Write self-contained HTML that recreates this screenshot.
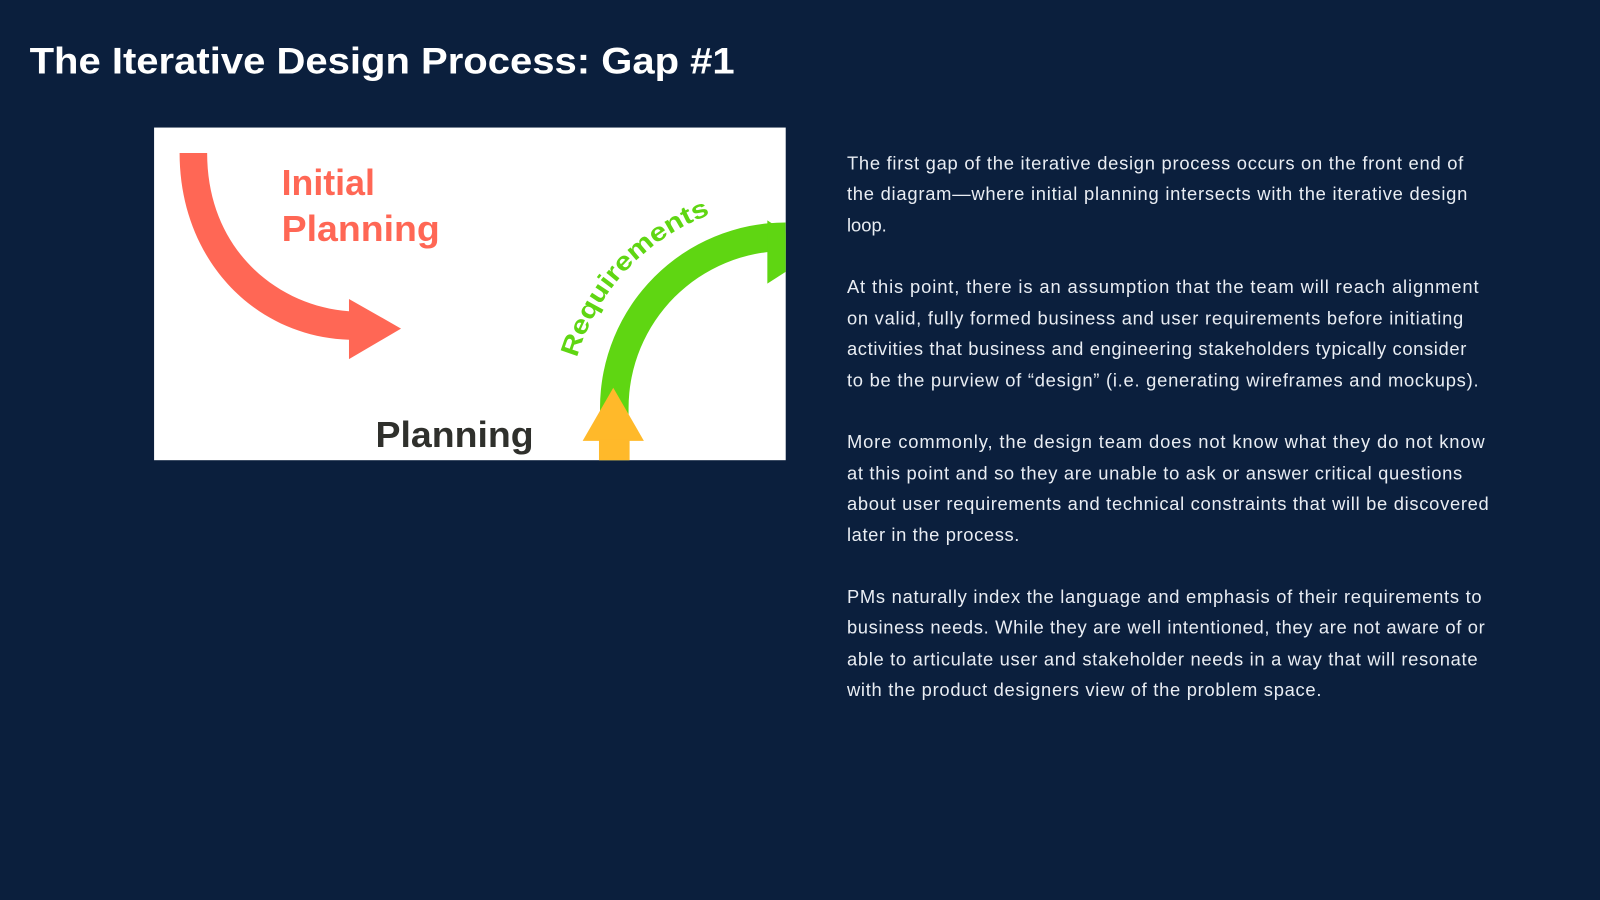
<!DOCTYPE html>
<html><head><meta charset="utf-8"><style>
html,body{margin:0;padding:0;background:#0b1f3d;width:1600px;height:900px;overflow:hidden}
svg{display:block}
</style></head><body>
<svg width="1600" height="900" viewBox="0 0 1568 882" xmlns="http://www.w3.org/2000/svg">
<rect width="1568" height="882" fill="#0b1f3d"/>
<text x="29" y="72" font-family="Liberation Sans, sans-serif" font-weight="bold" font-size="36" fill="#ffffff" textLength="691" lengthAdjust="spacingAndGlyphs">The Iterative Design Process: Gap #1</text>
<defs><clipPath id="c"><rect x="151" y="125" width="619" height="326"/></clipPath>
<path id="arc" d="M557,410 A213,213 0 0 1 770,197"/></defs>
<rect x="151" y="125" width="619" height="326" fill="#fff"/>
<g clip-path="url(#c)">
<path d="M176,150 C176,255 250,330 342,333 L342,352 L393,322 L342,293 L342,305 C272,300 203,245 203,150 Z" fill="#ff6755"/>
<path d="M588,451 L588,400 A182,182 0 0 1 770,218 L770,246 A154,154 0 0 0 616,400 L616,451 Z" fill="#5fd612"/>
<polygon points="752,216 800,247 752,278" fill="#5fd612"/>
<polygon points="571,432 601,380 631,432" fill="#ffb92a"/>
<rect x="587" y="431" width="30" height="25" fill="#ffb92a"/>
<text font-family="Liberation Sans, sans-serif" font-weight="bold" font-size="25" fill="#5fd612"><textPath href="#arc" startOffset="60" textLength="199" lengthAdjust="spacingAndGlyphs">Requirements</textPath></text>
<text x="276" y="191" font-family="Liberation Sans, sans-serif" font-weight="bold" font-size="35" fill="#ff6755">Initial</text>
<text x="276" y="236" font-family="Liberation Sans, sans-serif" font-weight="bold" font-size="35" fill="#ff6755" textLength="155" lengthAdjust="spacingAndGlyphs">Planning</text>
<text x="368" y="438" font-family="Liberation Sans, sans-serif" font-weight="bold" font-size="35" fill="#2f302c" textLength="155" lengthAdjust="spacingAndGlyphs">Planning</text>
</g>
<g font-family="Liberation Sans, sans-serif" font-size="18" fill="#e9edf3">
<text x="830" y="166" textLength="604" lengthAdjust="spacing">The first gap of the iterative design process occurs on the front end of</text>
<text x="830" y="196" textLength="608" lengthAdjust="spacing">the diagram—where initial planning intersects with the iterative design</text>
<text x="830" y="227">loop.</text>
<text x="830" y="287" textLength="619" lengthAdjust="spacing">At this point, there is an assumption that the team will reach alignment</text>
<text x="830" y="318" textLength="604" lengthAdjust="spacing">on valid, fully formed business and user requirements before initiating</text>
<text x="830" y="348" textLength="607" lengthAdjust="spacing">activities that business and engineering stakeholders typically consider</text>
<text x="830" y="379" textLength="619" lengthAdjust="spacing">to be the purview of “design” (i.e. generating wireframes and mockups).</text>
<text x="830" y="439" textLength="625" lengthAdjust="spacing">More commonly, the design team does not know what they do not know</text>
<text x="830" y="470" textLength="603" lengthAdjust="spacing">at this point and so they are unable to ask or answer critical questions</text>
<text x="830" y="500" textLength="629" lengthAdjust="spacing">about user requirements and technical constraints that will be discovered</text>
<text x="830" y="530" textLength="169" lengthAdjust="spacing">later in the process.</text>
<text x="830" y="591" textLength="622" lengthAdjust="spacing">PMs naturally index the language and emphasis of their requirements to</text>
<text x="830" y="621" textLength="625" lengthAdjust="spacing">business needs. While they are well intentioned, they are not aware of or</text>
<text x="830" y="652" textLength="618" lengthAdjust="spacing">able to articulate user and stakeholder needs in a way that will resonate</text>
<text x="830" y="682" textLength="465" lengthAdjust="spacing">with the product designers view of the problem space.</text>
</g>
</svg>
</body></html>
